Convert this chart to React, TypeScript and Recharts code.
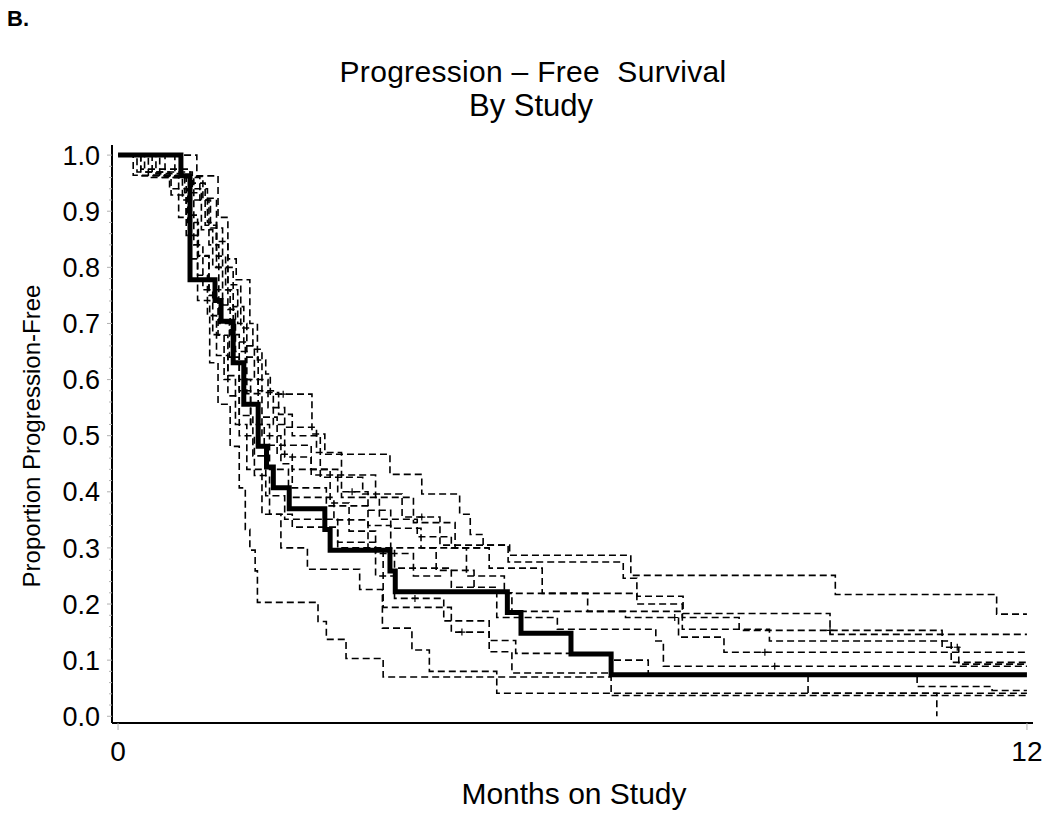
import { ComposedChart, Line, Scatter, XAxis, YAxis } from "recharts";

// x ticks (months) and y ticks (proportion)
const monthTicks = [0, 12];
const yTicks = [
  0, 0.02, 0.04, 0.06, 0.08, 0.1, 0.12, 0.14, 0.16, 0.18, 0.2, 0.22, 0.24, 0.26, 0.28, 0.3,
  0.32, 0.34, 0.36, 0.38, 0.4, 0.42, 0.44, 0.46, 0.48, 0.5, 0.52, 0.54, 0.56, 0.58, 0.6,
  0.62, 0.64, 0.66, 0.68, 0.7, 0.72, 0.74, 0.76, 0.78, 0.8, 0.82, 0.84, 0.86, 0.88, 0.9,
  0.92, 0.94, 0.96, 0.98, 1,
];

// pooled KM estimate (bold)
const pooled: [number, number][] = [
  [0, 1], [0.83, 0.963], [0.95, 0.778], [1.28, 0.741], [1.36, 0.704], [1.52, 0.63],
  [1.66, 0.556], [1.85, 0.481], [1.96, 0.444], [2.05, 0.407], [2.26, 0.37], [2.73, 0.333],
  [2.8, 0.296], [3.59, 0.259], [3.66, 0.222], [5.14, 0.185], [5.32, 0.148], [5.98, 0.111],
  [6.51, 0.074], [12, 0.074],
];

// individual studies (dashed)
const study1: [number, number][] = [
  [0, 1], [1.04, 0.963], [1.32, 0.889], [1.45, 0.815], [1.56, 0.778], [1.74, 0.7],
  [1.84, 0.635], [1.95, 0.61], [2.01, 0.574], [2.56, 0.503], [2.73, 0.467], [3.59, 0.431],
  [4.01, 0.396], [4.51, 0.36], [4.65, 0.324], [4.82, 0.305], [5.17, 0.287], [6.77, 0.251],
  [9.47, 0.217], [11.6, 0.182], [12, 0.182],
];
const study2: [number, number][] = [
  [0, 1], [0.62, 0.962], [1.12, 0.923], [1.3, 0.846], [1.45, 0.769], [1.62, 0.692],
  [1.78, 0.654], [1.9, 0.577], [2.12, 0.538], [2.3, 0.5], [2.67, 0.426], [3.23, 0.396],
  [3.75, 0.355], [4.25, 0.305], [5.15, 0.275], [6.67, 0.246], [6.85, 0.214], [7.46, 0.183],
  [9.4, 0.146], [12, 0.146],
];
const study3: [number, number][] = [
  [0, 1], [0.35, 0.97], [0.98, 0.94], [1.18, 0.88], [1.3, 0.82], [1.42, 0.76], [1.58, 0.7],
  [1.7, 0.64], [1.85, 0.58], [2.05, 0.52], [2.2, 0.462], [2.55, 0.43], [2.95, 0.39],
  [3.45, 0.351], [3.95, 0.32], [4.4, 0.3], [4.9, 0.264], [5.6, 0.219], [6.85, 0.2],
  [7.45, 0.176], [8.2, 0.153], [10.88, 0.123], [11.1, 0.093], [12, 0.093],
];
const study4: [number, number][] = [
  [0, 1], [0.5, 0.967], [0.88, 0.933], [1.1, 0.867], [1.25, 0.8], [1.38, 0.733],
  [1.52, 0.667], [1.68, 0.6], [1.85, 0.533], [2.1, 0.467], [2.3, 0.44], [2.9, 0.4],
  [3.3, 0.367], [3.6, 0.335], [4.0, 0.3], [4.6, 0.25], [5.1, 0.219], [6.2, 0.187],
  [7.45, 0.155], [8.6, 0.134], [11.0, 0.096], [12, 0.096],
];
const study5: [number, number][] = [
  [0, 1], [0.3, 0.975], [0.95, 0.95], [1.15, 0.875], [1.3, 0.8], [1.45, 0.725], [1.55, 0.65],
  [1.7, 0.575], [1.9, 0.5], [2.15, 0.45], [2.3, 0.407], [2.75, 0.375], [3.3, 0.34],
  [3.6, 0.3], [4.2, 0.26], [4.7, 0.22], [5.2, 0.187], [6.7, 0.176], [7.4, 0.141],
  [8.0, 0.114], [12, 0.114],
];
const study6: [number, number][] = [
  [0, 1], [0.75, 0.96], [1.0, 0.92], [1.2, 0.84], [1.33, 0.76], [1.48, 0.68], [1.6, 0.6],
  [1.75, 0.52], [2.0, 0.44], [2.25, 0.39], [2.85, 0.35], [3.3, 0.3], [3.65, 0.264],
  [4.4, 0.23], [5.0, 0.176], [5.8, 0.155], [7.1, 0.134], [7.2, 0.089], [12, 0.089],
];
const study7: [number, number][] = [
  [0, 1], [0.45, 0.964], [0.9, 0.893], [1.05, 0.821], [1.2, 0.75], [1.32, 0.679],
  [1.45, 0.607], [1.6, 0.536], [1.78, 0.464], [1.95, 0.393], [2.2, 0.351], [2.9, 0.31],
  [3.4, 0.25], [3.65, 0.21], [4.3, 0.17], [4.9, 0.135], [5.25, 0.112], [6.5, 0.1],
  [7.0, 0.074], [10.55, 0.053], [11.54, 0.046], [12, 0.046],
];
const study8: [number, number][] = [
  [0, 1], [0.2, 0.964], [0.7, 0.929], [0.9, 0.857], [1.05, 0.786], [1.18, 0.714],
  [1.3, 0.643], [1.45, 0.571], [1.6, 0.5], [1.8, 0.429], [2.0, 0.36], [2.3, 0.337],
  [2.9, 0.3], [3.5, 0.194], [4.4, 0.15], [4.9, 0.115], [5.2, 0.077], [6.5, 0.074],
  [9.11, 0.041], [12, 0.041],
];
const study9: [number, number][] = [
  [0, 1], [0.3, 0.963], [0.8, 0.889], [0.95, 0.815], [1.05, 0.741], [1.21, 0.63],
  [1.32, 0.556], [1.48, 0.481], [1.6, 0.407], [1.68, 0.333], [1.74, 0.296], [1.81, 0.259],
  [1.84, 0.203], [2.64, 0.169], [2.75, 0.137], [3.01, 0.103], [3.5, 0.07], [6.51, 0.037],
  [12, 0.037],
];
const study10: [number, number][] = [
  [0, 1], [0.4, 0.96], [0.85, 0.92], [1.0, 0.84], [1.12, 0.76], [1.25, 0.68], [1.4, 0.6],
  [1.55, 0.52], [1.7, 0.44], [1.9, 0.36], [2.15, 0.3], [2.5, 0.262], [3.19, 0.226],
  [3.49, 0.157], [3.88, 0.118], [4.11, 0.08], [5.0, 0.041], [10.81, 0],
];
const study11: [number, number][] = [
  [0, 1], [0.55, 0.96], [1.08, 0.92], [1.22, 0.87], [1.38, 0.8], [1.52, 0.73], [1.66, 0.66],
  [1.8, 0.6], [1.98, 0.55], [2.2, 0.515], [2.62, 0.47], [2.95, 0.43], [3.4, 0.39],
  [3.9, 0.345], [4.45, 0.3], [4.9, 0.3],
];
const study12: [number, number][] = [
  [0, 1], [0.25, 0.97], [0.68, 0.94], [0.92, 0.88], [1.06, 0.82], [1.2, 0.76], [1.33, 0.7],
  [1.47, 0.64], [1.6, 0.58], [1.75, 0.52], [1.93, 0.483], [2.55, 0.44], [2.8, 0.38],
  [3.05, 0.33], [3.4, 0.29], [3.9, 0.25], [4.3, 0.25],
];

// censored observations
const censored: [number, number][] = [
  [2.18, 0.574], [3.09, 0.4], [4.01, 0.355], [3.92, 0.21], [4.54, 0.15], [7.35, 0.176],
  [8.54, 0.114], [8.67, 0.089], [9.4, 0.153], [11.08, 0.123],
];

const studies = [
  study1, study2, study3, study4, study5, study6,
  study7, study8, study9, study10, study11, study12,
];

const toPoints = (s: [number, number][]) => s.map(([t, v]) => ({ t, v }));

const FONT = "'Liberation Sans', Arial, sans-serif";

const YTick = (props: any) => {
  const { x, y, payload } = props;
  const val = payload.value as number;
  const major = Math.abs(val * 10 - Math.round(val * 10)) < 1e-6;
  return (
    <g>
      <line x1={x - (major ? 5 : 3)} x2={x} y1={y} y2={y} stroke="#b0b0b0" strokeWidth={1} />
      {major && (
        <text x={x - 12} y={y} dy="0.355em" textAnchor="end" fontSize={27} fill="#000" fontFamily={FONT}>
          {val.toFixed(1)}
        </text>
      )}
    </g>
  );
};

const CensorMark = (props: any) => {
  const { cx, cy } = props;
  return <path d={`M${cx - 3.5},${cy}h7M${cx},${cy - 3.5}v7`} stroke="#000" strokeWidth={1.2} />;
};

export default function App() {
  return (
    <div style={{ position: "absolute", left: 0, top: 0, width: 1050, height: 819, background: "#fff", fontFamily: FONT }}>
      <div style={{ position: "absolute", left: 7, top: 7, fontSize: 22, fontWeight: "bold", lineHeight: "24px" }}>B.</div>
      <div style={{ position: "absolute", left: 0, width: 1066, top: 55, textAlign: "center", fontSize: 30, lineHeight: "34px", whiteSpace: "pre", letterSpacing: 0.3 }}>
        {"Progression – Free  Survival"}
      </div>
      <div style={{ position: "absolute", left: 0, width: 1062, top: 89, textAlign: "center", fontSize: 31, lineHeight: "34px" }}>
        By Study
      </div>
      <ComposedChart
        width={1050}
        height={819}
        margin={{ top: 145, right: 17, bottom: 0, left: 0 }}
      >
        <XAxis
          dataKey="t"
          type="number"
          domain={[-0.08, 12.08]}
          ticks={monthTicks}
          allowDataOverflow
          height={96}
          axisLine={{ stroke: "#000", strokeWidth: 2 }}
          tickLine={{ stroke: "#b0b0b0" }}
          tickSize={7}
          tickMargin={11}
          tick={{ fontSize: 28, fill: "#000", fontFamily: FONT }}
        />
        <YAxis
          type="number"
          domain={[-0.012, 1.018]}
          ticks={yTicks}
          allowDataOverflow
          width={112}
          axisLine={{ stroke: "#000", strokeWidth: 2 }}
          tickLine={false}
          tickSize={0}
          tickMargin={0}
          interval={0}
          tick={<YTick />}
        />
        {studies.map((s, i) => (
          <Line
            key={i}
            data={toPoints(s)}
            dataKey="v"
            type="stepAfter"
            stroke="#000"
            strokeWidth={1.6}
            strokeDasharray="7 4"
            dot={false}
            activeDot={false}
            isAnimationActive={false}
          />
        ))}
        <Line
          data={toPoints(pooled)}
          dataKey="v"
          type="stepAfter"
          stroke="#000"
          strokeWidth={5}
          dot={false}
          activeDot={false}
          isAnimationActive={false}
        />
        <Scatter data={toPoints(censored)} dataKey="v" shape={<CensorMark />} isAnimationActive={false} />
      </ComposedChart>
      <div
        style={{
          position: "absolute",
          left: 32,
          top: 436,
          transform: "translate(-50%, -50%) rotate(-90deg)",
          fontSize: 24,
          whiteSpace: "nowrap",
        }}
      >
        Proportion Progression-Free
      </div>
      <div style={{ position: "absolute", left: 0, width: 1148, top: 777, textAlign: "center", fontSize: 30 }}>
        Months on Study
      </div>
    </div>
  );
}
